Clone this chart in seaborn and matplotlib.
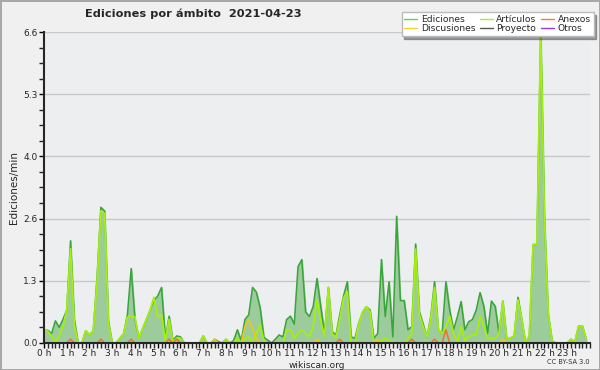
import matplotlib
matplotlib.use("Agg")
import matplotlib.pyplot as plt
from matplotlib.ticker import MultipleLocator, FixedLocator
import numpy as np
import pandas as pd
import seaborn as sns

# ---- Data: edits per minute, one value every 10 minutes (144 per day) ----
ediciones = [
    0.27, 0.27, 0.20, 0.47, 0.33, 0.50, 0.70, 2.17, 0.50, 0.00, 0.00, 0.26,
    0.17, 0.26, 1.40, 2.88, 2.80, 0.45, 0.00, 0.00, 0.10, 0.20, 0.60, 1.58,
    0.50, 0.10, 0.30, 0.50, 0.70, 0.90, 1.00, 1.18, 0.10, 0.57, 0.05, 0.15,
    0.13, 0.00, 0.00, 0.00, 0.00, 0.00, 0.15, 0.00, 0.00, 0.08, 0.03, 0.00,
    0.08, 0.00, 0.05, 0.28, 0.05, 0.50, 0.60, 1.18, 1.08, 0.75, 0.12, 0.06,
    0.00, 0.08, 0.17, 0.13, 0.50, 0.57, 0.40, 1.62, 1.77, 0.66, 0.56, 0.78,
    1.37, 0.77, 0.20, 1.18, 0.24, 0.17, 0.60, 1.00, 1.30, 0.13, 0.10, 0.42,
    0.65, 0.77, 0.70, 0.10, 0.20, 1.77, 0.56, 1.30, 0.13, 2.69, 0.90, 0.90,
    0.28, 0.35, 2.10, 0.66, 0.40, 0.13, 0.56, 1.30, 0.28, 0.20, 1.30, 0.70,
    0.28, 0.55, 0.88, 0.28, 0.45, 0.50, 0.70, 1.07, 0.78, 0.20, 0.89, 0.78,
    0.20, 0.89, 0.10, 0.10, 0.15, 0.97, 0.50, 0.00, 0.15, 2.09, 2.09, 6.60,
    2.60, 0.60, 0.05, 0.00, 0.00, 0.00, 0.00, 0.08, 0.02, 0.36, 0.36, 0.08,
]
articulos = [
    0.27, 0.25, 0.15, 0.02, 0.15, 0.35, 0.70, 2.00, 0.40, 0.00, 0.00, 0.26,
    0.17, 0.26, 1.30, 2.80, 2.75, 0.40, 0.00, 0.00, 0.10, 0.20, 0.55, 0.58,
    0.55, 0.10, 0.30, 0.50, 0.70, 0.97, 0.55, 0.60, 0.05, 0.50, 0.02, 0.10,
    0.10, 0.00, 0.00, 0.00, 0.00, 0.00, 0.15, 0.00, 0.00, 0.00, 0.00, 0.00,
    0.08, 0.00, 0.00, 0.10, 0.00, 0.10, 0.13, 0.00, 0.20, 0.38, 0.05, 0.00,
    0.00, 0.00, 0.00, 0.00, 0.28, 0.28, 0.10, 0.20, 0.28, 0.20, 0.13, 0.35,
    0.91, 0.45, 0.15, 1.18, 0.20, 0.12, 0.50, 0.95, 1.09, 0.00, 0.00, 0.40,
    0.65, 0.77, 0.66, 0.00, 0.05, 0.05, 0.10, 0.05, 0.00, 0.00, 0.00, 0.00,
    0.10, 0.20, 1.99, 0.60, 0.35, 0.13, 0.50, 1.18, 0.28, 0.20, 0.35, 0.56,
    0.20, 0.02, 0.35, 0.05, 0.13, 0.17, 0.17, 0.56, 0.35, 0.10, 0.10, 0.10,
    0.20, 0.88, 0.10, 0.10, 0.15, 0.91, 0.50, 0.00, 0.15, 2.09, 2.09, 6.60,
    2.60, 0.60, 0.05, 0.00, 0.00, 0.00, 0.00, 0.08, 0.02, 0.36, 0.36, 0.08,
]
discusiones = [
    0, 0, 0, 0, 0, 0, 0, 0, 0, 0, 0, 0,
    0, 0, 0, 0, 0, 0, 0, 0, 0, 0, 0, 0,
    0, 0, 0, 0, 0, 0, 0, 0, 0, 0, 0, 0,
    0, 0, 0, 0, 0, 0, 0, 0, 0, 0.08, 0, 0,
    0, 0, 0, 0, 0, 0.35, 0.49, 0.30, 0.10, 0, 0, 0,
    0, 0, 0, 0, 0, 0, 0, 0, 0, 0, 0, 0,
    0.08, 0, 0, 0, 0, 0, 0, 0, 0, 0, 0, 0,
    0, 0, 0, 0, 0.08, 0, 0, 0, 0, 0, 0, 0,
    0, 0, 0, 0, 0, 0, 0, 0, 0, 0, 0, 0,
    0, 0, 0, 0, 0, 0, 0, 0, 0, 0, 0, 0,
    0, 0.08, 0, 0, 0, 0, 0, 0, 0, 0, 0, 0,
    0, 0, 0, 0, 0, 0, 0, 0, 0, 0, 0, 0,
]
anexos = [
    0, 0, 0, 0, 0, 0, 0, 0.08, 0, 0, 0, 0,
    0, 0, 0, 0.08, 0, 0, 0, 0, 0, 0, 0, 0.08,
    0, 0, 0, 0, 0, 0, 0, 0, 0, 0.08, 0, 0.08,
    0, 0, 0, 0, 0, 0, 0, 0, 0, 0, 0, 0,
    0, 0, 0, 0, 0, 0, 0, 0, 0, 0, 0, 0,
    0, 0, 0, 0, 0, 0, 0, 0, 0, 0, 0, 0,
    0, 0, 0, 0, 0, 0, 0.08, 0, 0, 0, 0, 0,
    0, 0, 0, 0, 0, 0, 0, 0, 0, 0, 0, 0,
    0, 0.08, 0, 0, 0, 0, 0, 0.08, 0, 0, 0.28, 0,
    0, 0, 0, 0, 0, 0, 0, 0, 0, 0, 0, 0,
    0, 0, 0, 0, 0, 0, 0, 0, 0, 0, 0, 0,
    0, 0, 0, 0, 0, 0, 0, 0, 0, 0, 0, 0,
]
proyecto = [0.0] * 144
otros = [0.0] * 144

hour_labels = [f"{h} h" for h in range(24)]
y_ticks = [0.0, 1.32, 2.64, 3.96, 5.28, 6.6]

df = pd.DataFrame({
    "hora": np.arange(144) / 6.0,
    "Ediciones": ediciones,
    "Artículos": articulos,
    "Discusiones": discusiones,
    "Anexos": anexos,
    "Proyecto": proyecto,
    "Otros": otros,
})

sns.set_style("ticks")
plt.rcParams["font.family"] = ["DejaVu Sans"]

fig = plt.figure(figsize=(6, 3.7), dpi=100)
fig.patch.set_facecolor("#f0f0f0")
fig.patch.set_edgecolor("#a8a8a8")
fig.patch.set_linewidth(2)
ax = fig.add_axes([0.0733, 0.073, 0.91, 0.8405])
ax.set_facecolor("#eceef0")

# ---- Series ----
ax.fill_between(df["hora"], df["Ediciones"], color="#9ccc9c", zorder=2)
sns.lineplot(data=df, x="hora", y="Proyecto", ax=ax, color="#555555", lw=1, zorder=1)
sns.lineplot(data=df, x="hora", y="Otros", ax=ax, color="#9933ff", lw=1, zorder=1)
sns.lineplot(data=df, x="hora", y="Ediciones", ax=ax, color="#3aa53a", lw=1.1, zorder=3)
sns.lineplot(data=df, x="hora", y="Artículos", ax=ax, color="#a6ee10", lw=1.3, zorder=4)
sns.lineplot(data=df, x="hora", y="Discusiones", ax=ax, color="#f5c518", lw=1.1, zorder=5)
sns.lineplot(data=df, x="hora", y="Anexos", ax=ax, color="#f07030", lw=1.1, zorder=6)

# ---- Axes ----
ax.set_xlim(0, 24)
ax.set_ylim(0, 6.6)
ax.set_xticks(range(24))
ax.set_xticklabels(hour_labels)
ax.xaxis.set_minor_locator(MultipleLocator(1 / 6))
ax.set_yticks(y_ticks)
ax.set_yticklabels([f"{v:.1f}" for v in y_ticks])
ax.yaxis.set_minor_locator(FixedLocator(np.arange(0, 6.61, 0.33)))
ax.tick_params(axis="both", which="major", labelsize=6.5, length=3.5, width=1,
               color="black", pad=1)
ax.tick_params(axis="x", which="minor", length=3.5, width=1)
ax.tick_params(axis="y", which="minor", length=3.5, width=1)
ax.grid(axis="y", which="major", color="#c8c8c8", lw=1)
ax.set_axisbelow(True)
for side in ["top", "right"]:
    ax.spines[side].set_visible(False)
for side in ["left", "bottom"]:
    ax.spines[side].set_linewidth(1.5)
    ax.spines[side].set_zorder(10)

ax.set_xlabel("wikiscan.org", fontsize=6.5, labelpad=2)
ax.set_ylabel("Ediciones/min", fontsize=7.5, labelpad=3)

fig.text(0.142, 0.962, "Ediciones por ámbito  2021-04-23", fontsize=8.2,
         fontweight="bold", ha="left", va="center")
fig.text(0.982, 0.022, "CC BY-SA 3.0", fontsize=4.8, ha="right", va="center",
         color="#333333")

# ---- Legend ----
colors = {
    "Ediciones": "#66cc66", "Discusiones": "#ffcc33", "Artículos": "#aaee22",
    "Proyecto": "#555555", "Anexos": "#ff7733", "Otros": "#9933ff",
}
handles = [plt.Line2D([], [], color=c, lw=1) for c in colors.values()]
fig.legend(handles, list(colors.keys()), ncol=3, fontsize=6.6,
           loc="upper right", bbox_to_anchor=(0.997, 0.98),
           frameon=True, fancybox=False, shadow=True, edgecolor="#bbbbbb",
           facecolor="white", framealpha=1, handlelength=1.4,
           handletextpad=0.4, columnspacing=0.5, labelspacing=0.05,
           borderpad=0.3)

fig.savefig("out.png", dpi=100, facecolor=fig.get_facecolor(),
            edgecolor=fig.get_edgecolor())
